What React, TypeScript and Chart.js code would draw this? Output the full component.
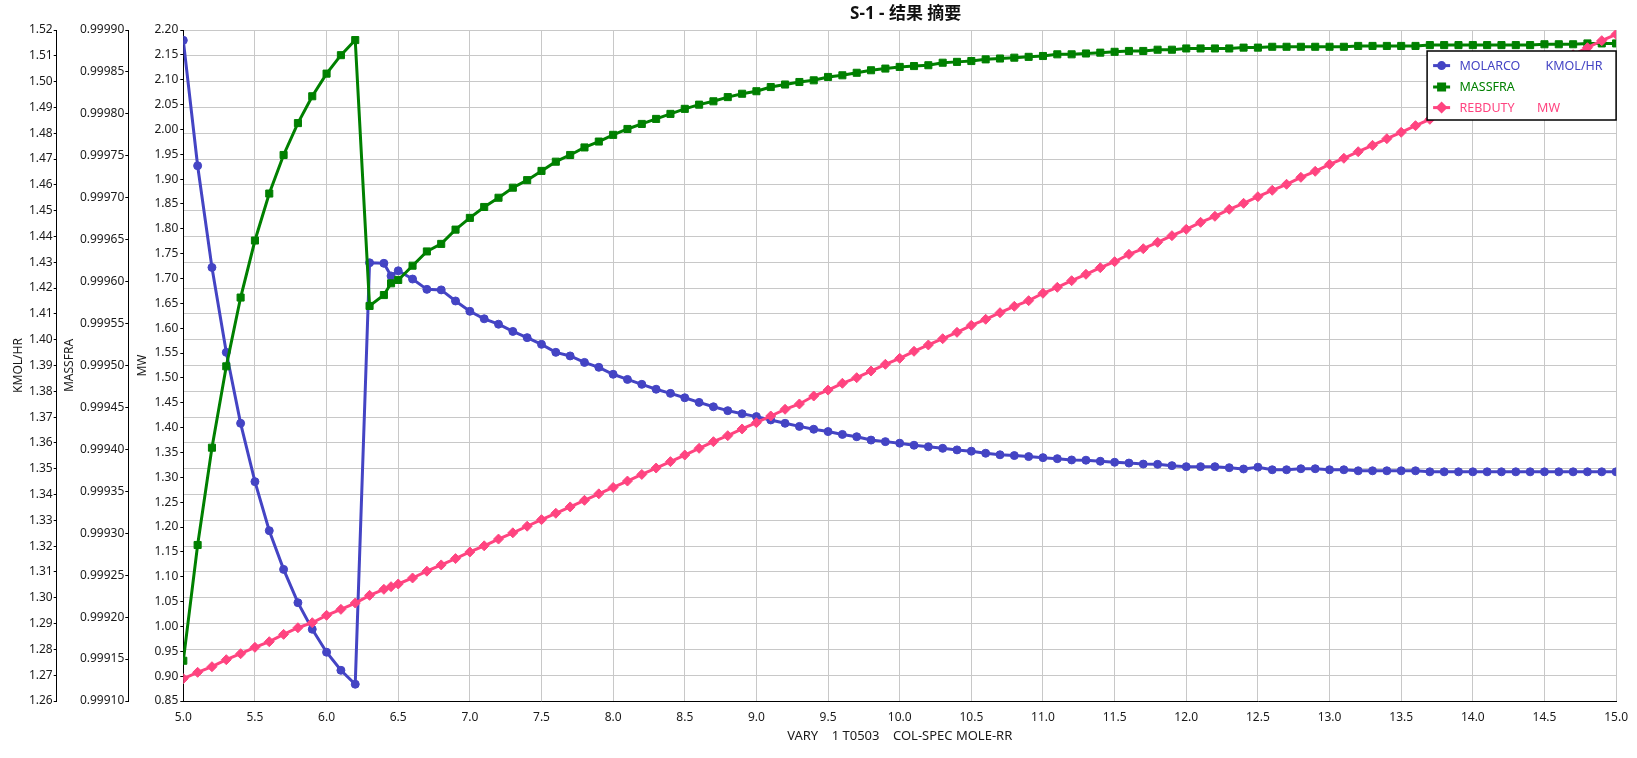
import React, { useEffect, useRef } from "react";
import { Chart, registerables } from "chart.js";

Chart.register(...registerables);

// ---------- data ----------
const xValues = [
  5.0, 5.1, 5.2, 5.3, 5.4, 5.5, 5.6, 5.7, 5.8, 5.9,
  6.0, 6.1, 6.2, 6.3, 6.4, 6.45,
  6.5, 6.6, 6.7, 6.8, 6.9, 7.0, 7.1, 7.2, 7.3, 7.4,
  7.5, 7.6, 7.7, 7.8, 7.9, 8.0, 8.1, 8.2, 8.3, 8.4,
  8.5, 8.6, 8.7, 8.8, 8.9, 9.0, 9.1, 9.2, 9.3, 9.4,
  9.5, 9.6, 9.7, 9.8, 9.9, 10.0, 10.1, 10.2, 10.3, 10.4,
  10.5, 10.6, 10.7, 10.8, 10.9, 11.0, 11.1, 11.2, 11.3, 11.4,
  11.5, 11.6, 11.7, 11.8, 11.9, 12.0, 12.1, 12.2, 12.3, 12.4,
  12.5, 12.6, 12.7, 12.8, 12.9, 13.0, 13.1, 13.2, 13.3, 13.4,
  13.5, 13.6, 13.7, 13.8, 13.9, 14.0, 14.1, 14.2, 14.3, 14.4,
  14.5, 14.6, 14.7, 14.8, 14.9, 15.0,
];

// MOLARCO (KMOL/HR)
const molarco = [
  1.5160, 1.4674, 1.4280, 1.3951, 1.3676, 1.3450, 1.3260, 1.3110, 1.2981, 1.2878,
  1.2789, 1.2719, 1.2665, 1.4298, 1.4296, 1.4247,
  1.4267, 1.4235, 1.4195, 1.4193, 1.4150, 1.4110, 1.4081, 1.4060, 1.4032, 1.4008,
  1.3982, 1.3951, 1.3937, 1.3912, 1.3893, 1.3866, 1.3846, 1.3827, 1.3808, 1.3792,
  1.3775, 1.3757, 1.3740, 1.3725, 1.3713, 1.3702, 1.3689, 1.3676, 1.3664, 1.3653,
  1.3644, 1.3633, 1.3624, 1.3611, 1.3605, 1.3599, 1.3591, 1.3585, 1.3579, 1.3573,
  1.3568, 1.3560, 1.3554, 1.3551, 1.3547, 1.3543, 1.3539, 1.3534, 1.3533, 1.3529,
  1.3525, 1.3522, 1.3518, 1.3517, 1.3512, 1.3508, 1.3508, 1.3508, 1.3504, 1.3499,
  1.3506, 1.3496, 1.3496, 1.3500, 1.3500, 1.3496, 1.3496, 1.3492, 1.3492, 1.3492,
  1.3492, 1.3492, 1.3488, 1.3488, 1.3488, 1.3488, 1.3488, 1.3488, 1.3488, 1.3488,
  1.3488, 1.3488, 1.3488, 1.3488, 1.3488, 1.3488,
];

// MASSFRA
const massfra = [
  0.999148, 0.999286, 0.999402, 0.999499, 0.999581, 0.999649, 0.999705, 0.999751, 0.999789, 0.999821,
  0.999848, 0.999870, 0.999888, 0.999571, 0.999584, 0.999598,
  0.999602, 0.999619, 0.999636, 0.999645, 0.999662, 0.999676, 0.999689, 0.999700, 0.999712, 0.999721,
  0.999732, 0.999743, 0.999751, 0.999760, 0.999767, 0.999775, 0.999782, 0.999788, 0.999794, 0.999800,
  0.999806, 0.999811, 0.999815, 0.999820, 0.999824, 0.999827, 0.999832, 0.999835, 0.999838, 0.999840,
  0.999844, 0.999846, 0.999849, 0.999852, 0.999854, 0.999856, 0.999857, 0.999858, 0.999861, 0.999862,
  0.999863, 0.999865, 0.999866, 0.999867, 0.999868, 0.999869, 0.999871, 0.999871, 0.999872, 0.999873,
  0.999874, 0.999875, 0.999875, 0.9998765, 0.9998765, 0.999878, 0.999878, 0.999878, 0.999878, 0.999879,
  0.999879, 0.999880, 0.999880, 0.999880, 0.999880, 0.999880, 0.999880, 0.999881, 0.999881, 0.999881,
  0.999881, 0.999881, 0.999882, 0.999882, 0.999882, 0.999882, 0.999882, 0.999882, 0.999882, 0.999882,
  0.999883, 0.999883, 0.999883, 0.999884, 0.999884, 0.999884,
];

// REBDUTY (MW)
const rebduty = [
  0.8949, 0.9077, 0.9190, 0.9331, 0.9451, 0.9580, 0.9693, 0.9841, 0.9974, 1.0075,
  1.0224, 1.0344, 1.0471, 1.0626, 1.0747, 1.0800,
  1.0854, 1.0975, 1.1112, 1.1238, 1.1365, 1.1498, 1.1622, 1.1758, 1.1884, 1.2016,
  1.2148, 1.2277, 1.2405, 1.2538, 1.2668, 1.2797, 1.2925, 1.3058, 1.3187, 1.3316,
  1.3449, 1.3584, 1.3717, 1.3838, 1.3973, 1.4099, 1.4234, 1.4369, 1.4476, 1.4636,
  1.4755, 1.4892, 1.5005, 1.5139, 1.5274, 1.5395, 1.5536, 1.5663, 1.5789, 1.5918,
  1.6059, 1.6180, 1.6312, 1.6441, 1.6554, 1.6703, 1.6823, 1.6956, 1.7085, 1.7218,
  1.7338, 1.7487, 1.7600, 1.7729, 1.7862, 1.7990, 1.8131, 1.8252, 1.8393, 1.8513,
  1.8646, 1.8775, 1.8896, 1.9036, 1.9157, 1.9298, 1.9419, 1.9551, 1.9680, 1.9813,
  1.9942, 2.0075, 2.0203, 2.0331, 2.0462, 2.0588, 2.0719, 2.0851, 2.0979, 2.1110,
  2.1238, 2.1371, 2.1502, 2.1644, 2.1785, 2.1913,
];

const seriesNames = ["MOLARCO", "MASSFRA", "REBDUTY"];
const seriesUnits = ["KMOL/HR", "", "MW"];
const axisTitles = ["KMOL/HR", "MASSFRA", "MW"];
const chartTitle = "S-1 - 结果 摘要";
const xAxisTitle = "VARY    1 T0503    COL-SPEC MOLE-RR";

const COLORS = ["#4444C4", "#008000", "#FF4480"];
const POINT_STYLES = ["circle", "rect", "rectRot"];
const FONT = "'Noto Sans', 'Noto Sans CJK SC', sans-serif";
const TEXT = "#1a1a1a";
const GRID = "#c8c8c8";

const toXY = (ys: number[]) => ys.map((y, i) => ({ x: xValues[i], y }));

const overlayPlugin = {
  id: "overlay",
  afterDraw(chart: any) {
    const ctx = chart.ctx as CanvasRenderingContext2D;
    const ca = chart.chartArea;
    ctx.save();
    // title
    ctx.font = `bold 17px ${FONT}`;
    ctx.fillStyle = "#111";
    ctx.textAlign = "center";
    ctx.textBaseline = "middle";
    ctx.fillText(chartTitle, (ca.left + ca.right) / 2 + 6, 14);

    // legend box
    const bw = 189;
    const bh = 69;
    const bx = ca.right - bw;
    const by = ca.top + 21;
    ctx.fillStyle = "#fff";
    ctx.fillRect(bx, by, bw, bh);
    ctx.strokeStyle = "#000";
    ctx.lineWidth = 1.5;
    ctx.strokeRect(bx, by, bw, bh);

    const rowY = [by + 14.6, by + 36, by + 56.6];
    const unitX = [bx + 118.4, bx + 118.4, bx + 110];
    ctx.font = `12.5px ${FONT}`;
    ctx.textAlign = "left";
    for (let i = 0; i < 3; i++) {
      const y = rowY[i];
      ctx.strokeStyle = COLORS[i];
      ctx.lineWidth = 3;
      ctx.beginPath();
      ctx.moveTo(bx + 6, y);
      ctx.lineTo(bx + 23, y);
      ctx.stroke();
      ctx.fillStyle = COLORS[i];
      ctx.beginPath();
      const cx = bx + 14.5;
      if (POINT_STYLES[i] === "circle") {
        ctx.arc(cx, y, 4.5, 0, Math.PI * 2);
      } else if (POINT_STYLES[i] === "rect") {
        ctx.rect(cx - 4.5, y - 4.5, 9, 9);
      } else {
        ctx.moveTo(cx - 6, y);
        ctx.lineTo(cx, y - 6);
        ctx.lineTo(cx + 6, y);
        ctx.lineTo(cx, y + 6);
        ctx.closePath();
      }
      ctx.fill();
      ctx.fillText(seriesNames[i], bx + 32.4, y + 0.5);
      if (seriesUnits[i]) ctx.fillText(seriesUnits[i], unitX[i], y + 0.5);
    }
    ctx.restore();
  },
};

export default function App() {
  const canvasRef = useRef<HTMLCanvasElement | null>(null);

  useEffect(() => {
    if (!canvasRef.current) return;
    Chart.defaults.font.family = FONT;
    const tickFont = { family: FONT, size: 12 };

    const mkDataset = (label: string, ys: number[], i: number, axis: string) => ({
      label,
      data: toXY(ys),
      yAxisID: axis,
      borderColor: COLORS[i],
      backgroundColor: COLORS[i],
      pointBackgroundColor: COLORS[i],
      pointBorderColor: COLORS[i],
      pointStyle: POINT_STYLES[i],
      pointRadius: i === 0 ? 4 : 5,
      pointBorderWidth: 1,
      borderWidth: 3,
      tension: 0,
      order: 3 - i,
    });

    const chart = new Chart(canvasRef.current, {
      type: "line",
      data: {
        datasets: [
          mkDataset(seriesNames[0], molarco, 0, "yK"),
          mkDataset(seriesNames[1], massfra, 1, "yM"),
          mkDataset(seriesNames[2], rebduty, 2, "yW"),
        ] as any,
      },
      plugins: [overlayPlugin],
      options: {
        animation: false,
        responsive: true,
        maintainAspectRatio: false,
        layout: { padding: { top: 30, right: 14.3, left: 0, bottom: 0 } },
        plugins: {
          legend: { display: false },
          title: { display: false },
          tooltip: { enabled: false },
        },
        scales: {
          x: {
            type: "linear",
            position: "bottom",
            min: 5,
            max: 15,
            ticks: {
              stepSize: 0.5,
              autoSkip: false,
              maxRotation: 0,
              padding: 9,
              color: TEXT,
              font: tickFont,
              callback: (v: any) => Number(v).toFixed(1),
            },
            grid: { color: GRID, lineWidth: 1, drawTicks: false },
            border: { color: "#000", width: 1 },
            title: {
              display: true,
              text: xAxisTitle,
              color: TEXT,
              font: { family: FONT, size: 13 },
              padding: { top: 0, bottom: 14 },
            },
            afterFit: (s: any) => {
              s.height = 57;
            },
          },
          yK: {
            type: "linear",
            position: "left",
            weight: 3,
            min: 1.26,
            max: 1.52,
            ticks: {
              stepSize: 0.01,
              autoSkip: false,
              padding: 1,
              color: TEXT,
              font: tickFont,
              callback: (v: any) => Number(v).toFixed(2),
            },
            grid: { color: GRID, lineWidth: 1, tickLength: 3, tickColor: "#000" },
            border: { color: "#000", width: 1 },
            title: {
              display: true,
              text: axisTitles[0],
              color: TEXT,
              font: tickFont,
              padding: { top: 11, bottom: 0 },
            },
            afterFit: (s: any) => {
              s.width = 56.7;
            },
          },
          yM: {
            type: "linear",
            position: "left",
            weight: 2,
            min: 0.9991,
            max: 0.9999,
            ticks: {
              stepSize: 0.00005,
              autoSkip: false,
              padding: 1,
              color: TEXT,
              font: tickFont,
              callback: (v: any) => Number(v).toFixed(5),
            },
            grid: { drawOnChartArea: false, tickLength: 3, tickColor: "#000" },
            border: { color: "#000", width: 1 },
            title: {
              display: true,
              text: axisTitles[1],
              color: TEXT,
              font: tickFont,
              padding: { top: 6, bottom: 0 },
            },
            afterFit: (s: any) => {
              s.width = 71.6;
            },
          },
          yW: {
            type: "linear",
            position: "left",
            weight: 1,
            min: 0.85,
            max: 2.2,
            ticks: {
              stepSize: 0.05,
              autoSkip: false,
              padding: 2,
              color: TEXT,
              font: tickFont,
              callback: (v: any) => Number(v).toFixed(2),
            },
            grid: { drawOnChartArea: false, tickLength: 3, tickColor: "#000" },
            border: { color: "#000", width: 1 },
            title: {
              display: true,
              text: axisTitles[2],
              color: TEXT,
              font: tickFont,
              padding: { top: 7.5, bottom: 0 },
            },
            afterFit: (s: any) => {
              s.width = 55;
            },
          },
        },
      } as any,
    });
    return () => chart.destroy();
  }, []);

  return (
    <div
      style={{
        position: "fixed",
        left: 0,
        top: 0,
        width: 1637,
        height: 758,
        background: "#fff",
      }}
    >
      <canvas ref={canvasRef} />
    </div>
  );
}
